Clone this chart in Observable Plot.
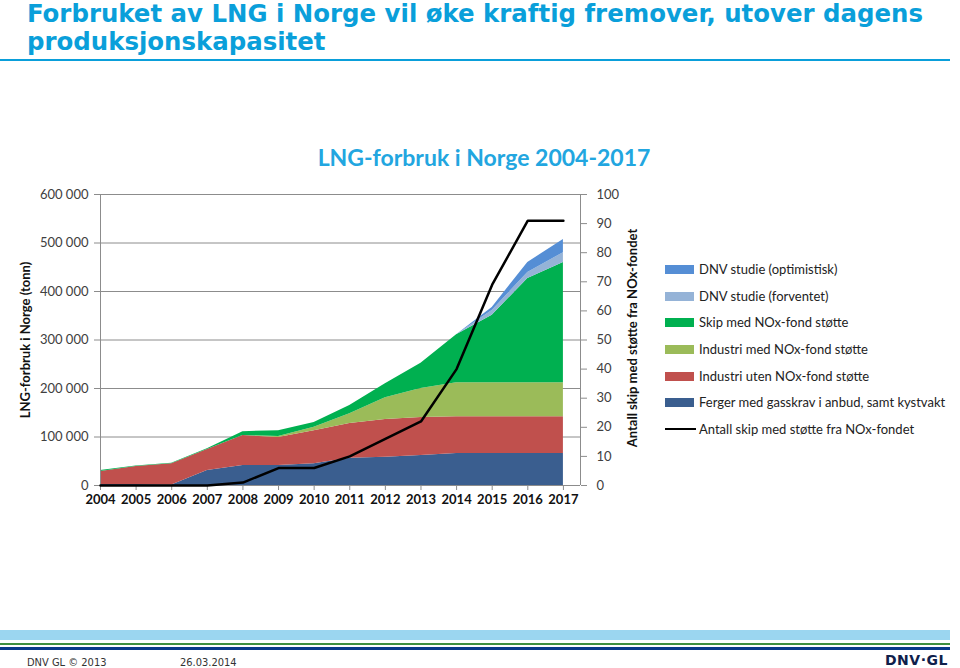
<!DOCTYPE html>
<html><head><meta charset="utf-8">
<script src="https://cdn.jsdelivr.net/npm/d3@7"></script>
<script src="https://cdn.jsdelivr.net/npm/@observablehq/plot@0.6"></script>
<style>
html,body{margin:0;padding:0;background:#fff;}
body{width:960px;height:668px;overflow:hidden;position:relative;font-family:Lato,"Open Sans",sans-serif;}
.abs{position:absolute;white-space:nowrap;}
#title{left:27px;top:0px;color:#0A9FDA;font-family:"DejaVu Sans Condensed","DejaVu Sans",sans-serif;font-stretch:condensed;font-weight:bold;font-size:24px;line-height:28px;transform-origin:0 0;}
#title span{display:block;}
#rule{left:0;top:59px;width:950px;height:2px;background:#0A9FDA;}
#ctitle{left:484px;top:143px;transform:translateX(-50%);color:#22A6E0;font-family:Lato,sans-serif;font-weight:bold;font-size:23px;}
.ytitle{font-family:Lato,sans-serif;font-weight:bold;font-size:13px;color:#111;transform:translate(-50%,-50%) rotate(-90deg);}
.leg{left:665px;height:16px;font-family:Lato,sans-serif;font-size:13px;color:#222;display:flex;align-items:center;}
.sw{width:29px;height:9px;margin-right:5px;}
.ln{width:31px;height:2px;background:#000;margin-right:3px;}
#chart{left:0;top:0;}
.foot{top:656px;font-family:'DejaVu Sans Condensed','DejaVu Sans',sans-serif;font-size:11px;color:#333;}
</style></head><body>
<div id="title" class="abs"><span id="t1">Forbruket av LNG i Norge vil øke kraftig fremover, utover dagens</span><span>produksjonskapasitet</span></div>
<div id="rule" class="abs"></div>
<div id="ctitle" class="abs">LNG-forbruk i Norge 2004-2017</div>
<div id="chart" class="abs"></div>
<div class="abs ytitle" style="left:25px;top:340px;">LNG-forbruk i Norge (tonn)</div>
<div class="abs ytitle" style="left:632px;top:338px;">Antall skip med støtte fra NOx-fondet</div>
<div id="legend"></div>
<div class="abs" style="left:0;top:630px;width:950px;height:10px;background:#9BD6F0;"></div>
<div class="abs" style="left:0;top:643px;width:950px;height:2px;background:#3F8F3F;"></div>
<div class="abs" style="left:0;top:647px;width:950px;height:3px;background:#0B3A8A;"></div>
<div class="abs foot" style="left:27px;">DNV GL © 2013</div>
<div class="abs foot" style="left:180px;">26.03.2014</div>
<div class="abs" style="left:885px;top:652px;font-family:'DejaVu Sans',sans-serif;font-weight:bold;font-size:14px;color:#0F204B;letter-spacing:0.5px;">DNV·GL</div>
<script>
// ---- data ----
const years = [2004,2005,2006,2007,2008,2009,2010,2011,2012,2013,2014,2015,2016,2017];
const seriesNames = [
  "Ferger med gasskrav i anbud, samt kystvakt",
  "Industri uten NOx-fond støtte",
  "Industri med NOx-fond støtte",
  "Skip med NOx-fond støtte",
  "DNV studie (forventet)",
  "DNV studie (optimistisk)"
];
const seriesColors = ["#3A5E8F","#C0504D","#9BBB59","#00B050","#95B3D7","#558ED5"];
// tonnes
const ferger         = [2000,2000,1000,31000,41000,41000,45000,56000,58000,62000,66000,66000,66000,66000];
const industriUten   = [27000,37000,44000,43000,62000,58000,68000,72000,78000,78000,76000,76000,76000,76000];
const industriMed    = [0,0,0,0,0,2000,7000,20000,45000,60000,70000,70000,70000,70000];
const skipNOx        = [2000,1000,1000,2000,8000,12000,10000,17000,29000,52000,99000,139000,215000,248000];
const dnvForventet   = [0,0,0,0,0,0,0,0,0,0,0,10000,12000,20000];
const dnvOptimistisk = [0,0,0,0,0,0,0,0,0,0,0,6000,21000,27000];
const antallSkip     = [0,0,0,0,1,6,6,10,16,22,40,69,91,91];
const lineName = "Antall skip med støtte fra NOx-fondet";
const leftTicks = [0,100000,200000,300000,400000,500000,600000];
const rightTicks = [0,10,20,30,40,50,60,70,80,90,100];

// ---- build ----
const seriesValues = [ferger, industriUten, industriMed, skipNOx, dnvForventet, dnvOptimistisk];
const rows = [];
seriesNames.forEach((s,i)=>years.forEach((y,j)=>rows.push({year:y, series:s, value:seriesValues[i][j]})));
const shipRows = years.map((y,j)=>({year:y, ships:antallSkip[j]}));
const K = leftTicks[leftTicks.length-1] / rightTicks[rightTicks.length-1];
const xMax = 2017.48;
const gray = "#8c8c8c";

const chart = Plot.plot({
  width:960, height:668,
  marginLeft:100, marginRight:380, marginTop:194, marginBottom:183,
  x:{domain:[years[0], xMax]},
  y:{domain:[0, leftTicks[leftTicks.length-1]]},
  color:{domain:seriesNames, range:seriesColors},
  style:{fontFamily:"Lato, sans-serif", fontSize:"13px", color:"#404040", background:"transparent"},
  marks:[
    Plot.gridY(leftTicks.slice(1), {stroke:gray, strokeOpacity:1}),
    Plot.areaY(rows, {x:"year", y:"value", z:"series", fill:"series", order:seriesNames}),
    Plot.ruleY([0], {stroke:gray}),
    Plot.ruleX([years[0]], {stroke:gray}),
    Plot.ruleX([xMax], {stroke:gray}),
    Plot.axisX(years, {tickFormat:d=>String(d), tickSize:5, tickPadding:4, stroke:gray, fill:"#111", fontWeight:"bold", label:null}),
    Plot.axisY(leftTicks, {tickFormat:d=>d3.format(",")(d).replace(/,/g," "), tickSize:6, tickPadding:6, stroke:gray, fill:"#404040", label:null}),
    Plot.axisY(rightTicks.map(d=>d*K), {anchor:"right", tickFormat:d=>String(Math.round(d/K)), tickSize:6, tickPadding:10, stroke:gray, fill:"#404040", label:null}),
    Plot.lineY(shipRows, {x:"year", y:d=>d.ships*K, stroke:"#000", strokeWidth:2.5})
  ]
});
document.getElementById("chart").appendChild(chart);

// legend
const legTops = [261,288,314,341,368,394,421];
const leg = document.getElementById("legend");
const order = seriesNames.map((s,i)=>i).reverse();
order.forEach((i,k)=>{
  const d = document.createElement("div");
  d.className="abs leg"; d.style.top=legTops[k]+"px";
  d.innerHTML = `<div class="sw" style="background:${seriesColors[i]}"></div>${seriesNames[i]}`;
  leg.appendChild(d);
});
const dl = document.createElement("div");
dl.className="abs leg"; dl.style.top=legTops[6]+"px";
dl.innerHTML = `<div class="ln"></div>${lineName}`;
leg.appendChild(dl);

// fit title width to reference line length
const t1 = document.getElementById("t1");
const r = document.createRange(); r.selectNodeContents(t1);
const w = r.getBoundingClientRect().width;
if (w > 0) document.getElementById("title").style.transform = `scaleX(${896/w})`;
</script>
</body></html>
